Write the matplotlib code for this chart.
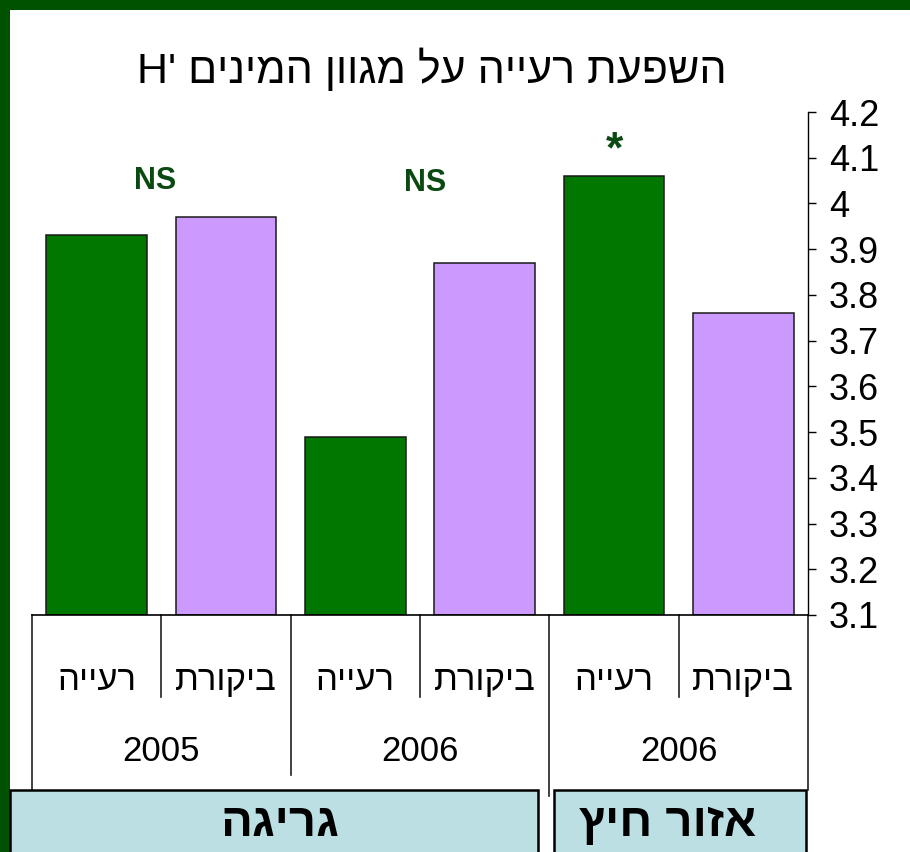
import matplotlib
matplotlib.use("Agg")
import matplotlib.pyplot as plt
from matplotlib.patches import Rectangle
from matplotlib.lines import Line2D
import matplotlib.transforms as mtransforms

plt.rcParams['font.family'] = ['Liberation Sans', 'DejaVu Sans']

# H' diversity per treatment, left to right
treatments = ['רעייה', 'ביקורת', 'רעייה', 'ביקורת', 'רעייה', 'ביקורת']
h_values = [3.93, 3.97, 3.49, 3.87, 4.06, 3.76]
years = ['2005', '2006', '2006']
sites = ['גריגה', 'אזור חיץ']
signif = ['NS', 'NS', '*']
yticks = [3.1, 3.2, 3.3, 3.4, 3.5, 3.6, 3.7, 3.8, 3.9, 4.0, 4.1, 4.2]
title_he = 'השפעת רעייה על מגוון המינים'

GREEN = '#007800'
PURPLE = '#CC99FF'
FRAME = '#005200'
BOX = '#BBDFE2'
TXT_GREEN = '#0A4A12'


def rtl(s):
    # matplotlib lays glyphs out left to right, so flip Hebrew into visual order
    return s[::-1]


W, H = 910, 852
fig = plt.figure(figsize=(W / 100, H / 100), dpi=100)
fig.patch.set_facecolor('white')

# slide frame: dark green band along top and left
fig.add_artist(Rectangle((0, 1 - 10 / H), 1, 10 / H, transform=fig.transFigure,
                         facecolor=FRAME, edgecolor='none', zorder=0))
fig.add_artist(Rectangle((0, 0), 10 / W, 1, transform=fig.transFigure,
                         facecolor=FRAME, edgecolor='none', zorder=0))

ax = fig.add_axes([32 / W, (H - 615) / H, 776 / W, 503 / H])
ax.set_facecolor('none')

x = list(range(len(h_values)))
colors = [GREEN if i % 2 == 0 else PURPLE for i in x]
ax.bar(x, [v - 3.1 for v in h_values], bottom=3.1, width=0.78,
       color=colors, edgecolor='#1a1a1a', linewidth=1.1)

ax.set_xlim(-0.5, len(h_values) - 0.5)
ax.set_ylim(3.1, 4.2)
ax.yaxis.tick_right()
ax.set_yticks(yticks)
ax.set_yticklabels(['%g' % t for t in yticks], fontsize=26)
ax.tick_params(axis='y', direction='out', length=6, width=1, pad=9)
ax.set_xticks([])
for s in ['top', 'left']:
    ax.spines[s].set_visible(False)
ax.spines['right'].set_linewidth(1)
ax.spines['bottom'].set_linewidth(1.2)

# significance marks above each year pair
sig_x = [0.45, 2.54, 4.0]
sig_y = [4.05, 4.045, 4.115]
for sx, sy, s in zip(sig_x, sig_y, signif):
    ax.text(sx, sy, s, ha='center', va='center', color=TXT_GREEN,
            fontsize=32 if s == '*' else 22, fontweight='bold')

# category table under the bars
blend = mtransforms.blended_transform_factory(ax.transData, ax.transAxes)
for i, t in enumerate(treatments):
    ax.text(i, -0.13, rtl(t), transform=blend, ha='center', va='center',
            fontsize=25)
for g, yr in enumerate(years):
    ax.text(2 * g + 0.5, -0.272, yr, transform=blend, ha='center', va='center',
            fontsize=25)

for b in range(len(h_values) + 1):
    xb = b - 0.5
    if b % 2 == 1:
        y0 = -0.163
    elif b == 4:
        y0 = -0.36
    elif b == 2:
        y0 = -0.318
    else:
        y0 = -0.348
    ax.add_artist(Line2D([xb, xb], [0, y0], transform=blend, color='#202020',
                         linewidth=1.2, clip_on=False))

# site boxes at the bottom
box_spans = [(10, 538), (554, 806)]
text_x = [280, 668]
for (x0, x1), tx, name in zip(box_spans, text_x, sites):
    fig.add_artist(Rectangle((x0 / W, -0.01), (x1 - x0) / W, (H - 790) / H + 0.01,
                             transform=fig.transFigure, facecolor=BOX,
                             edgecolor='black', linewidth=1.8))
    fig.text(tx / W, (H - 824) / H, rtl(name), ha='center', va='center',
             fontsize=34, fontweight='bold')

fig.text(432 / W, (H - 70) / H, "H' " + rtl(title_he),
         ha='center', va='center', fontsize=31)

fig.savefig('out.png', dpi=100)
